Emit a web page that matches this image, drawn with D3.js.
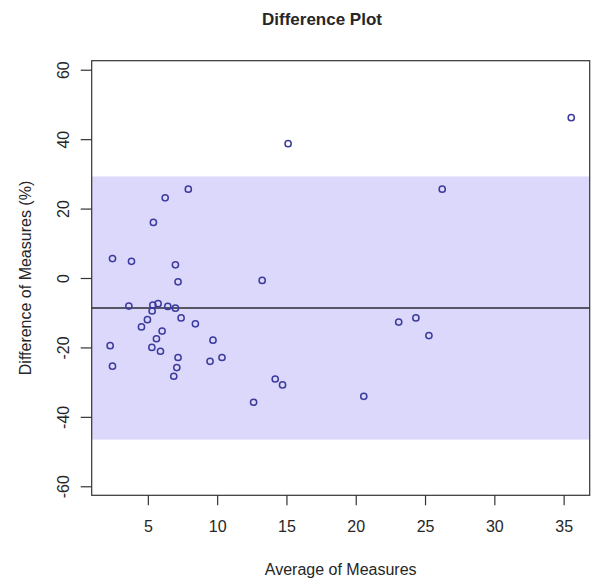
<!DOCTYPE html>
<html>
<head>
<meta charset="utf-8">
<script src="https://cdn.jsdelivr.net/npm/d3@7"></script>
<style>
  body { margin: 0; background: #fff; }
  text { font-family: "Liberation Sans", Arial, sans-serif; fill: #262626; }
</style>
</head>
<body>
<div id="chart-wrap"></div>
<script>
// average of the two measures (x) and their difference in % (y)
var avgMeasures = [35.55, 15.12, 7.92, 26.24, 6.25, 5.40, 2.45, 3.82, 6.99, 7.18,
  13.25, 3.63, 5.36, 5.74, 5.31, 6.44, 6.99, 7.40, 4.97, 4.54,
  8.43, 6.03, 5.62, 2.28, 9.70, 5.29, 5.91, 2.45, 7.18, 9.49,
  10.35, 7.09, 6.87, 14.19, 14.72, 12.63, 20.58, 23.10, 24.34, 25.28];
var diffMeasures = [46.2, 38.7, 25.6, 25.6, 23.1, 16.0, 5.6, 4.8, 3.8, -1.1,
  -0.7, -8.1, -7.8, -7.4, -9.5, -8.2, -8.7, -11.5, -12.0, -14.1,
  -13.2, -15.3, -17.5, -19.5, -17.9, -20.0, -21.1, -25.4, -22.9, -24.0,
  -22.9, -25.8, -28.3, -29.1, -30.8, -35.8, -34.1, -12.7, -11.5, -16.6];
var meanDiff = -8.65;
var limits = [-46.55, 29.25];
var xTicks = [5, 10, 15, 20, 25, 30, 35];
var yTicks = [-60, -40, -20, 0, 20, 40, 60];
var yLimit = [-62.6, 62.6];

var width = 603, height = 586;
var margin = { top: 60.7, right: 13.3, bottom: 90.7, left: 91.7 };
var w = width - margin.left - margin.right,
  h = height - margin.top - margin.bottom;

// R-style 4% padding on the x range
var xExt = d3.extent(avgMeasures), pad = (xExt[1] - xExt[0]) * 0.04;
var x = d3.scaleLinear().domain([xExt[0] - pad, xExt[1] + pad]).range([0, w]);
var y = d3.scaleLinear().domain(yLimit).range([h, 0]);

var svg = d3.select("#chart-wrap").append("svg")
  .attr("width", width)
  .attr("height", height);

svg.append("text")
  .attr("x", 322).attr("y", 25)
  .attr("text-anchor", "middle")
  .style("font-size", "17px").style("font-weight", "bold")
  .text("Difference Plot");

var g = svg.append("g")
  .attr("transform", "translate(" + margin.left + "," + margin.top + ")");

// limits of agreement band
g.append("rect")
  .attr("x", 0).attr("width", w)
  .attr("y", y(limits[1]))
  .attr("height", y(limits[0]) - y(limits[1]))
  .attr("fill", "#dcd8fb");

g.append("line")
  .attr("x1", 0).attr("x2", w)
  .attr("y1", y(meanDiff)).attr("y2", y(meanDiff))
  .attr("stroke", "#2b2b33").attr("stroke-width", 1.6);

g.selectAll("circle.pt")
  .data(avgMeasures.map(function(d, i) { return [d, diffMeasures[i]]; }))
  .enter().append("circle")
  .attr("class", "pt")
  .attr("cx", function(d) { return x(d[0]); })
  .attr("cy", function(d) { return y(d[1]); })
  .attr("r", 3.1)
  .attr("fill", "none")
  .attr("stroke", "#3b3b9e")
  .attr("stroke-width", 1.5);

g.append("rect")
  .attr("width", w).attr("height", h)
  .attr("fill", "none").attr("stroke", "#333").attr("stroke-width", 1.2);

var xAxis = d3.axisBottom(x).tickValues(xTicks).tickSize(10).tickPadding(15)
  .tickFormat(String);
var gx = g.append("g")
  .attr("transform", "translate(0," + h + ")")
  .call(xAxis);
gx.select(".domain").remove();
gx.selectAll("line").attr("stroke", "#333").attr("stroke-width", 1.2);
gx.selectAll("text").style("font-size", "16px").attr("fill", "#262626");

// plain hyphen for negatives, as in the original
var yAxis = d3.axisLeft(y).tickValues(yTicks).tickSize(11).tickPadding(0)
  .tickFormat(String);
var gy = g.append("g").call(yAxis);
gy.select(".domain").remove();
gy.selectAll("line").attr("stroke", "#333").attr("stroke-width", 1.2);
gy.selectAll("text")
  .attr("x", null).attr("dy", null)
  .attr("text-anchor", "middle")
  .attr("transform", "translate(-23,0) rotate(-90)")
  .style("font-size", "16px").attr("fill", "#262626");

svg.append("text")
  .attr("x", margin.left + w / 2).attr("y", 575)
  .attr("text-anchor", "middle")
  .style("font-size", "16px")
  .text("Average of Measures");

svg.append("text")
  .attr("transform", "translate(31," + (margin.top + h / 2) + ") rotate(-90)")
  .attr("text-anchor", "middle")
  .style("font-size", "16px")
  .text("Difference of Measures (%)");
</script>
</body>
</html>
